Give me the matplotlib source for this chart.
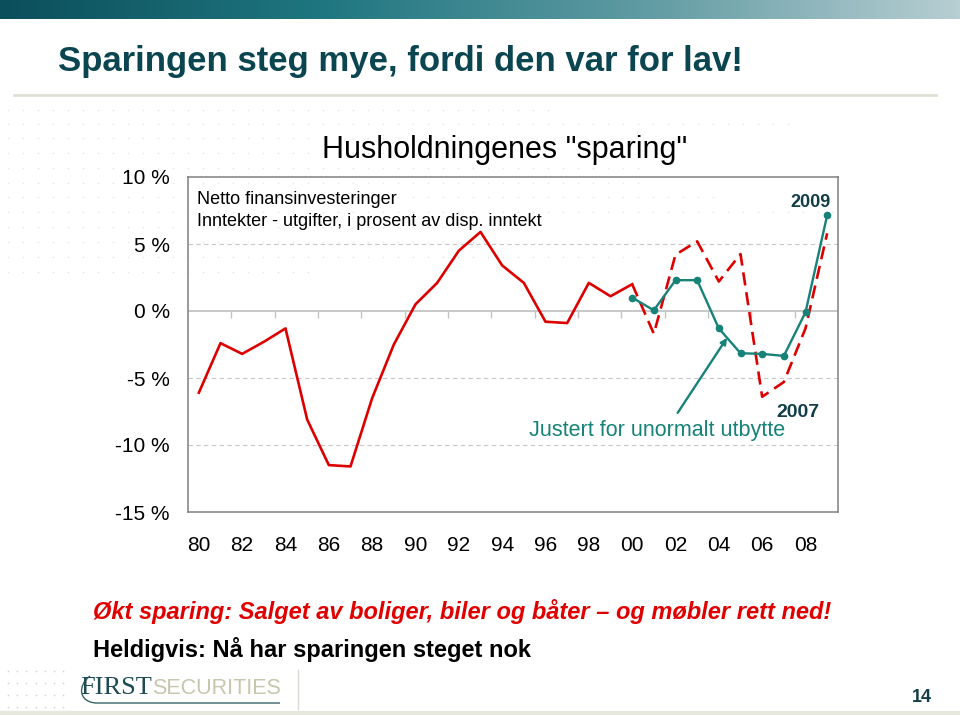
import numpy as np
import matplotlib.pyplot as plt
from matplotlib.colors import LinearSegmentedColormap
from matplotlib.patches import PathPatch
from matplotlib.path import Path

plt.rcParams['font.family'] = ['Liberation Sans', 'DejaVu Sans']
NARROW = ['Liberation Sans Narrow', 'Liberation Sans', 'DejaVu Sans']

# husholdningenes netto finansinvesteringer, % av disp. inntekt
years_solid = list(range(1980, 2001))
saving_solid = [-6.1, -2.4, -3.2, -2.3, -1.3, -8.1, -11.5, -11.6, -6.5, -2.5,
                0.5, 2.1, 4.5, 5.9, 3.4, 2.1, -0.8, -0.9, 2.1, 1.1, 2.0]
years_late = list(range(2000, 2010))
saving_dashed = [2.0, -1.7, 4.2, 5.2, 2.2, 4.25, -6.4, -5.3, -1.3, 5.8]
saving_adjusted = [1.0, 0.05, 2.3, 2.3, -1.3, -3.15, -3.2, -3.35, -0.1, 7.15]

tick_years = list(range(1980, 2010, 2))
tick_labels = ['80', '82', '84', '86', '88', '90', '92', '94', '96', '98',
               '00', '02', '04', '06', '08']
y_ticks = [-15, -10, -5, 0, 5, 10]
y_labels = ['-15 %', '-10 %', '-5 %', '0 %', '5 %', '10 %']

RED = '#dd0000'
TEAL = '#178278'
DARK = '#123f47'

W, H = 960, 716
fig = plt.figure(figsize=(9.6, 7.16), dpi=100)

# slide background in pixel coords
bg = fig.add_axes([0, 0, 1, 1])
bg.set_xlim(0, W)
bg.set_ylim(H, 0)
bg.axis('off')

cmap = LinearSegmentedColormap.from_list('bar', ['#0b4f5b', '#1f7680', '#5f9aa2', '#b7ced2'])
bg.imshow(np.linspace(0, 1, 256)[None, :], cmap=cmap, aspect='auto',
          extent=(0, W, 19, 0), zorder=1)

# faint dot pattern
row_y = [110, 124, 138, 153, 168, 183, 197, 212, 227, 242, 257, 272]
row_end = [560, 797, 480, 480, 647, 647, 723, 847, 480, 480, 647, 313]
for yy, xe in zip(row_y, row_end):
    xs = np.arange(8, xe, 15)
    bg.scatter(xs, np.full(len(xs), yy), s=1.5, color='#e8e8e8', lw=0, zorder=1)
for yy in [671, 683, 695, 707]:
    xs = np.arange(8, 64, 9.2)
    bg.scatter(xs, np.full(len(xs), yy), s=1.5, color='#d4d4d4', lw=0, zorder=1)

bg.plot([14, 936], [95, 95], color='#e0e0d4', lw=2)
bg.plot([0, W], [713, 713], color='#e6e6da', lw=3)
bg.plot([298, 298], [670, 709], color='#d8d8d0', lw=1)

bg.text(58, 62, 'Sparingen steg mye, fordi den var for lav!', fontsize=25,
        fontweight='bold', color='#0b4650', family=NARROW, va='center')
bg.text(93, 612, 'Økt sparing: Salget av boliger, biler og båter – og møbler rett ned!',
        fontsize=17, fontweight='bold', style='italic', color='#e00000',
        family=NARROW, va='center')
bg.text(93, 650, 'Heldigvis: Nå har sparingen steget nok', fontsize=17,
        fontweight='bold', color='black', family=NARROW, va='center')

# logo
bg.text(80, 694, 'FIRST', family=['Liberation Serif', 'DejaVu Serif'], fontsize=19,
        color='#1c4b53', va='baseline')
bg.text(152, 694, 'SECURITIES', family=NARROW, fontsize=15.5, color='#c7c7ad',
        va='baseline')
swoosh = Path([(90, 676), (77, 686), (79, 702), (96, 703), (280, 703)],
              [Path.MOVETO, Path.CURVE4, Path.CURVE4, Path.CURVE4, Path.LINETO])
bg.add_patch(PathPatch(swoosh, fill=False, edgecolor='#36646a', lw=1))
bg.text(922, 697, '14', fontsize=13, fontweight='bold', color=DARK,
        family=NARROW, ha='center', va='center')

bg.text(505, 150, 'Husholdningenes "sparing"', fontsize=22, ha='center', va='center')

# chart
ax = fig.add_axes([188 / W, 1 - 512 / H, 650 / W, 335 / H])
ax.set_facecolor('none')
ax.set_xlim(1979.5, 2009.5)
ax.set_ylim(-15, 10)

for v in [5, -5, -10]:
    ax.axhline(v, color='#c8c8c8', lw=0.8, dashes=(4, 3), zorder=0)
ax.axhline(0, color='#c4c4c4', lw=1.3, zorder=0)
ax.vlines(np.arange(1981.5, 2008, 2), -0.5, 0, color='#c4c4c4', lw=1, zorder=0)

ax.plot(years_solid, saving_solid, color=RED, lw=1.9)
ax.plot(years_late, saving_dashed, color=RED, lw=1.9, dashes=(5, 2.6))
ax.plot(years_late, saving_adjusted, color=TEAL, lw=1.7, marker='o', ms=4.5, zorder=3)

ax.annotate('', xy=(2004.38, -2.0), xytext=(2002.1, -7.6),
            arrowprops=dict(arrowstyle='-|>', color=TEAL, lw=1.7,
                            mutation_scale=9, shrinkA=0, shrinkB=0))
ax.text(2001.17, -8.9, 'Justert for unormalt utbytte', color=TEAL, fontsize=15.5,
        ha='center', va='center')
ax.text(2007.63, -7.6, '2007', color=DARK, fontsize=14, fontweight='bold',
        ha='center', va='center')
ax.annotate('2009', xy=(years_late[-1], saving_adjusted[-1]), xytext=(-12, 9),
            textcoords='offset points', color=DARK, fontsize=13, fontweight='bold',
            ha='center', va='center')

ax.text(0.014, 0.934, 'Netto finansinvesteringer', transform=ax.transAxes,
        fontsize=13, va='center')
ax.text(0.014, 0.866, 'Inntekter - utgifter, i prosent av disp. inntekt',
        transform=ax.transAxes, fontsize=13, va='center')

ax.set_xticks(tick_years, tick_labels)
ax.set_yticks(y_ticks, y_labels)
ax.tick_params(axis='x', length=0, pad=17, labelsize=15)
ax.tick_params(axis='y', length=0, pad=13, labelsize=15)
for s in ax.spines.values():
    s.set_color('#808080')
    s.set_linewidth(1.1)

fig.savefig('out.png', dpi=100)
